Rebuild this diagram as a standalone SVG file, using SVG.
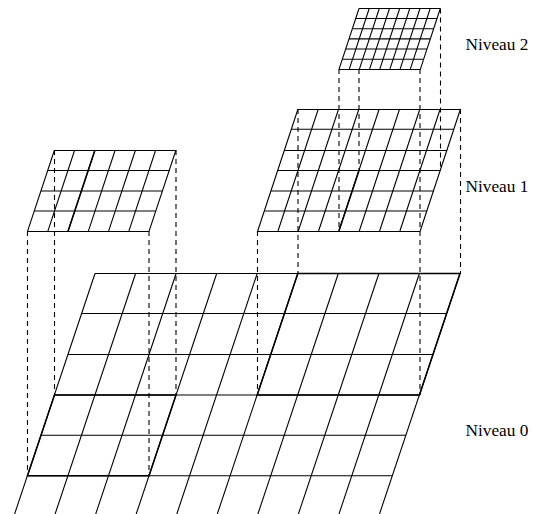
<svg xmlns="http://www.w3.org/2000/svg" width="534" height="514" viewBox="0 0 534 514">
<style>
.g{fill:none;stroke:#000;stroke-width:1.1}
.t{fill:none;stroke:#000;stroke-width:1.5}
.d{fill:none;stroke:#000;stroke-width:1.1;stroke-dasharray:5 4}
text{font-family:"Liberation Serif","Times New Roman",serif;font-size:17.3px;fill:#000}
</style>
<rect width="534" height="514" fill="#fff"/>
<g id="connectors">
<path class="d" d="M27.5 231V476M54.5 150V395M149 231V476M176 150V395M257.5 231V395M298 109V273.5M420 231V395M460.5 109V273.5M339 69V231M359 69V170.5M420 69V231M440.5 8.5V170.5"/>
</g>
<g id="niveau0">
<path class="g" d="M95 273.5H460M81.5 313.5H446.5M68 354.5H433M54.5 395H419.5M41 435.3H406M27.5 475.7H392.5"/>
<path class="g" d="M95 273.5L14.6 514M135.6 273.5L55.1 514M176.1 273.5L95.7 514M216.7 273.5L136.2 514M257.2 273.5L176.8 514M297.8 273.5L217.3 514M338.3 273.5L257.9 514M378.9 273.5L298.4 514M419.4 273.5L339 514M460 273.5L379.5 514"/>
<path class="t" d="M54.5 395H176L149 475.7H27.5ZM297.8 273.5H460L419.5 395H257.2Z"/>
</g>
<g id="niveau1-gauche">
<path class="g" d="M54.5 150.5H176M47.7 170.5H169.2M41 191H162.5M34.2 211H155.7M27.5 231.5H149"/>
<path class="g" d="M54.5 150L27.5 231.3M74.7 150L47.8 231.3M95 150L68 231.3M115.2 150L88.3 231.3M135.5 150L108.5 231.3M155.7 150L128.8 231.3M176 150L149 231.3"/>
<path class="t" d="M95 150L68 231.3"/>
</g>
<g id="niveau1-droite">
<path class="g" d="M298 109.5H460.5M291.3 129.3H453.8M284.6 150.5H447.1M277.8 170.5H440.3M271.1 191H433.6M264.4 211H426.9M257.7 231.5H420.2"/>
<path class="g" d="M298 109L257.7 231M318.3 109L278 231M338.6 109L298.3 231M358.9 109L318.6 231M379.2 109L338.9 231M399.6 109L359.3 231M419.9 109L379.6 231M440.2 109L399.9 231M460.5 109L420.2 231"/>
<path class="t" d="M359 170.5L338.9 231"/>
</g>
<g id="niveau2">
<path class="g" d="M359 8.5H440.3M355.7 18.5H437M352.3 28.8H433.6M349 38.9H430.3M345.6 49H426.9M342.3 59.2H423.6M339 69.5H420.3"/>
<path class="g" d="M359 8.5L339 69.3M369.2 8.5L349.2 69.3M379.3 8.5L359.3 69.3M389.5 8.5L369.5 69.3M399.7 8.5L379.7 69.3M409.8 8.5L389.8 69.3M420 8.5L400 69.3M430.2 8.5L410.2 69.3M440.3 8.5L420.3 69.3"/>
</g>
<g id="labels">
<text x="465.5" y="50">Niveau 2</text>
<text x="465.5" y="192">Niveau 1</text>
<text x="465.5" y="436">Niveau 0</text>
</g>
</svg>
